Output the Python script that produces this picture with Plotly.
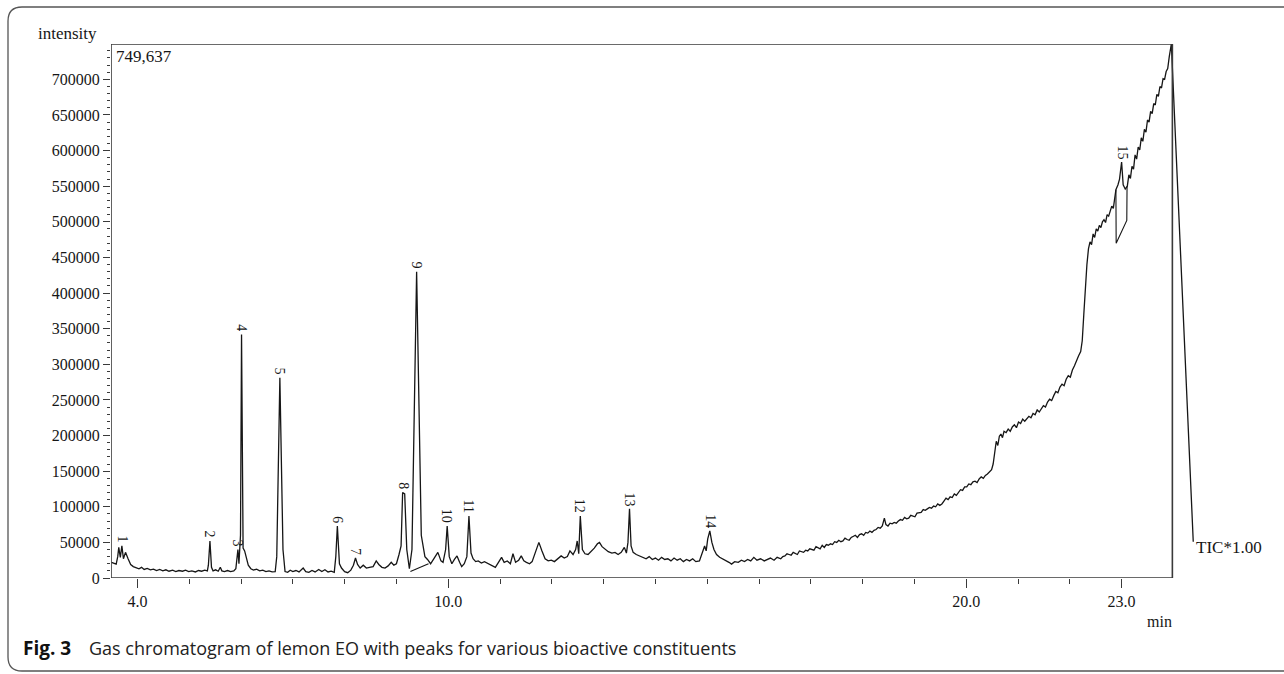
import plotly.graph_objects as go

# ---------------- data ----------------
# early part of the run: 3.5 - 10.4 min
t_early = [
    3.50, 3.55, 3.59, 3.62, 3.64, 3.67, 3.70, 3.73, 3.77, 3.82, 3.87, 3.92, 3.97,
    4.03, 4.08, 4.13, 4.19, 4.25, 4.31, 4.37, 4.43, 4.49, 4.55, 4.61, 4.68, 4.74,
    4.80, 4.87, 4.93, 4.99, 5.05, 5.12, 5.18, 5.24, 5.30, 5.35,
    5.37, 5.40, 5.43, 5.46, 5.51, 5.56, 5.60, 5.63, 5.68, 5.74, 5.80, 5.86, 5.90,
    5.92, 5.94, 5.96, 5.99, 6.01, 6.04, 6.07, 6.10, 6.14, 6.19, 6.24, 6.30, 6.36,
    6.42, 6.48, 6.54, 6.60, 6.66,
    6.69, 6.75, 6.81, 6.85, 6.90, 6.95, 7.00, 7.06, 7.12, 7.20, 7.25, 7.31, 7.37,
    7.43, 7.50, 7.56, 7.62, 7.68, 7.74, 7.80,
    7.83, 7.86, 7.90, 7.94, 8.00, 8.06, 8.12, 8.17, 8.21, 8.25, 8.30, 8.36, 8.42,
    8.48, 8.55, 8.61, 8.66, 8.72, 8.78, 8.84, 8.90, 8.95, 9.00, 9.05, 9.09,
    9.12, 9.16, 9.20, 9.25, 9.30,
    9.39, 9.48, 9.55, 9.60, 9.66, 9.73, 9.80, 9.86, 9.90, 9.95, 9.98, 10.02, 10.07,
    10.12, 10.17, 10.22, 10.26, 10.31, 10.36,
]
i_early = [
    22000, 20000, 19500, 30000, 43000, 29000, 45000, 27000, 36000, 27000, 19000, 16000, 14500,
    13000, 15000, 12000, 13500, 11500, 12500, 10500, 12000, 10000, 11500, 9500, 11000, 9000,
    10500, 9500, 11000, 9000, 10000, 8500, 10500, 9500, 11000, 10000,
    18000, 52000, 15000, 10000, 11500, 9500, 15000, 10000, 9000, 10500, 9000, 10000, 13000,
    25000, 40000, 20000, 60000, 342000, 42000, 38000, 28000, 18000, 13000, 11000, 12500, 10000,
    11000, 9000, 10000, 8500, 9000,
    30000, 281000, 40000, 9000, 8000, 11000, 9000, 10500, 8500, 14000, 9000, 8000, 10500,
    8500, 12000, 9000, 11500, 8500, 9500, 8000,
    30000, 73000, 20000, 14000, 9000, 7500, 11000, 18000, 28000, 19000, 14000, 18000, 14000,
    15000, 16000, 24000, 19000, 15000, 14000, 17000, 22000, 18000, 20000, 33000, 45000,
    120000, 118000, 40000, 13000, 40000,
    430000, 60000, 30000, 26000, 20000, 28000, 36000, 24000, 22000, 40000, 73000, 30000, 20000,
    26000, 31000, 22000, 16000, 20000, 30000,
]

# middle part: 10.4 - 16.5 min
t_mid = [
    10.40, 10.44, 10.48, 10.53, 10.58, 10.64, 10.70, 10.75, 10.80, 10.86, 10.91,
    10.97, 11.03, 11.08, 11.14, 11.20, 11.25, 11.30, 11.36, 11.41, 11.46, 11.51,
    11.57, 11.62, 11.68, 11.75, 11.81, 11.87, 11.93, 11.99, 12.05, 12.12, 12.18,
    12.24, 12.30, 12.35, 12.41, 12.46, 12.49, 12.52, 12.55, 12.59, 12.64, 12.70,
    12.76, 12.82, 12.88, 12.92, 12.97, 13.03, 13.09, 13.16, 13.22, 13.28, 13.34,
    13.40, 13.44, 13.47, 13.50, 13.53, 13.57, 13.63, 13.69, 13.76, 13.82, 13.88,
    13.94, 14.00, 14.06, 14.12, 14.18, 14.24, 14.30, 14.36, 14.42, 14.48, 14.54,
    14.60, 14.66, 14.72, 14.78, 14.85, 14.91, 14.95, 14.98, 15.01, 15.05, 15.09,
    15.13, 15.18, 15.24, 15.30, 15.36, 15.42, 15.47, 15.53, 15.60, 15.66, 15.72,
    15.78, 15.84, 15.90, 15.96, 16.03, 16.10, 16.16, 16.22, 16.29, 16.35, 16.42,
    16.46,
]
i_mid = [
    87000, 35000, 27000, 23000, 24000, 21000, 23000, 21000, 19000, 17000, 15000,
    22000, 29000, 22000, 24000, 20000, 34000, 22000, 25000, 31000, 24000, 22000,
    20000, 23000, 36000, 50000, 38000, 27000, 24000, 25000, 23000, 27000, 31000,
    28000, 30000, 38000, 33000, 40000, 52000, 34000, 87000, 40000, 34000, 33000,
    37000, 42000, 48000, 50000, 44000, 40000, 37000, 35000, 36000, 33000, 36000,
    43000, 35000, 50000, 97000, 45000, 36000, 33000, 31000, 29000, 27000, 30000,
    26000, 28000, 25000, 29000, 26000, 27000, 24000, 28000, 25000, 27000, 23000,
    26000, 24000, 27000, 23000, 24000, 35000, 45000, 38000, 55000, 66000, 50000,
    40000, 33000, 29000, 27000, 24000, 22000, 19500, 23000, 22000, 25000, 23000,
    26000, 24000, 29000, 25000, 27000, 24000, 26000, 28000, 25000, 29000, 27000,
    30000,
]

# late part (rising column bleed): 16.5 - 24.4 min
t_late = [
    16.50, 16.54, 16.58, 16.62, 16.66, 16.70, 16.74, 16.78, 16.82, 16.86, 16.90,
    16.94, 16.98, 17.02, 17.06, 17.10, 17.14, 17.18, 17.22, 17.26, 17.30, 17.34,
    17.38, 17.42, 17.46, 17.50, 17.54, 17.58, 17.62, 17.66, 17.70, 17.74, 17.78,
    17.82, 17.86, 17.90, 17.94, 17.98, 18.02, 18.06, 18.10, 18.14, 18.18, 18.22,
    18.26, 18.30, 18.34, 18.38, 18.42, 18.45, 18.49, 18.53, 18.57, 18.61, 18.65,
    18.69, 18.73, 18.77, 18.81, 18.85, 18.89, 18.93, 18.97, 19.01, 19.05, 19.09,
    19.13, 19.17, 19.21, 19.25, 19.29, 19.33, 19.37, 19.41, 19.45, 19.49, 19.53,
    19.57, 19.61, 19.65, 19.69, 19.73, 19.77, 19.81, 19.85, 19.89, 19.93, 19.97,
    20.01, 20.05, 20.09, 20.13, 20.17, 20.21, 20.25, 20.29, 20.33, 20.37, 20.41,
    20.45, 20.49, 20.52, 20.55, 20.58, 20.61, 20.64, 20.67, 20.70, 20.73, 20.77,
    20.81, 20.85, 20.89, 20.93, 20.97, 21.01, 21.05, 21.09, 21.13, 21.17, 21.21,
    21.25, 21.29, 21.33, 21.37, 21.41, 21.45, 21.49, 21.53, 21.57, 21.61, 21.65,
    21.69, 21.73, 21.77, 21.81, 21.85, 21.89, 21.93, 21.97, 22.01, 22.05, 22.09,
    22.13, 22.17, 22.21, 22.24, 22.27, 22.30, 22.33, 22.36, 22.39, 22.42, 22.45,
    22.48, 22.51, 22.54, 22.57, 22.60, 22.63, 22.66, 22.69, 22.72, 22.75, 22.78,
    22.81, 22.84, 22.87, 22.89, 22.93, 22.96, 23.00, 23.03, 23.07, 23.11, 23.14,
    23.17, 23.20, 23.23, 23.26, 23.29, 23.32, 23.35, 23.38, 23.41, 23.44, 23.47,
    23.50, 23.53, 23.56, 23.59, 23.62, 23.65, 23.68, 23.71, 23.74, 23.77, 23.80,
    23.83, 23.86, 23.89, 23.92, 23.96, 24.383,
]
i_late = [
    31000, 34000, 33000, 32000, 36000, 35000, 33000, 38000, 37000, 36000, 39000,
    38000, 41000, 40000, 39000, 44000, 42000, 41000, 46000, 43000, 47000, 46000,
    48000, 47000, 51000, 50000, 53000, 51000, 52000, 56000, 54000, 53000, 57000,
    58000, 60000, 57000, 61000, 62000, 60000, 64000, 63000, 66000, 64000, 67000,
    68000, 71000, 70000, 73000, 84000, 75000, 73000, 77000, 76000, 78000, 77000,
    80000, 82000, 81000, 85000, 83000, 84000, 88000, 87000, 86000, 91000, 92000,
    92000, 96000, 95000, 97000, 99000, 98000, 101000, 100000, 104000, 102000, 104000,
    108000, 112000, 110000, 114000, 113000, 118000, 116000, 121000, 124000, 123000, 128000,
    128000, 132000, 131000, 135000, 136000, 134000, 139000, 142000, 140000, 144000, 146000,
    149000, 152000, 160000, 178000, 192000, 186000, 199000, 202000, 197000, 206000, 204000,
    209000, 206000, 212000, 215000, 211000, 219000, 217000, 223000, 220000, 224000, 227000,
    225000, 231000, 229000, 236000, 233000, 238000, 242000, 240000, 247000, 251000, 249000,
    256000, 262000, 260000, 268000, 272000, 270000, 279000, 284000, 282000, 292000, 298000,
    306000, 312000, 318000, 333000, 370000, 410000, 440000, 462000, 472000, 468000, 483000,
    478000, 490000, 487000, 495000, 492000, 500000, 503000, 499000, 510000, 508000, 515000,
    522000, 519000, 534000, 545000, 552000, 560000, 584000, 552000, 546000, 550000, 566000,
    561000, 578000, 574000, 594000, 588000, 605000, 601000, 618000, 613000, 630000, 626000,
    643000, 640000, 655000, 652000, 666000, 664000, 679000, 676000, 690000, 688000, 701000,
    700000, 711000, 715000, 732000, 749637, 51000,
]

time_min = t_early + t_mid + t_late
intensity = i_early + i_mid + i_late

# integration baselines drawn by the GC software (segments split by None)
base_time = [9.27, 9.62, None, 22.89, 22.895, 23.10, 23.105]
base_intensity = [9000, 20000, None, 545000, 470000, 502000, 550000]

peak_labels = ["1", "2", "3", "4", "5", "6", "7", "8", "9", "10", "11", "12", "13", "14", "15"]
peak_times = [3.72, 5.40, 5.95, 6.01, 6.75, 7.86, 8.21, 9.14, 9.39, 9.98, 10.40, 12.55, 13.50, 15.05, 23.00]
peak_heights = [45000, 52000, 40000, 342000, 281000, 73000, 28000, 120000, 430000, 73000, 87000, 87000, 97000, 66000, 584000]

x_major_vals = [4, 10, 20, 23]
x_major_text = ["4.0", "10.0", "20.0", "23.0"]
x_minor_vals = list(range(4, 24))
y_max = 749637
y_max_text = "749,637"

# ---------------- layout geometry ----------------
W, H = 1284, 674
ML, MR, MT, MB = 111, 85, 44, 96
PW = W - ML - MR
PH = H - MT - MB
X0, X1 = 3.49, 24.494        # axis range (extends past the frame on the right)
FRAME_RIGHT = 23.98


def px(xpix):
    return (xpix - ML) / PW


def py(ypix):
    return (H - MB - ypix) / PH


serif = "Liberation Serif, Times New Roman, serif"
ink = "#161616"

fig = go.Figure()
fig.add_trace(go.Scatter(
    x=time_min, y=intensity, mode="lines",
    line=dict(color=ink, width=1.3), hoverinfo="skip", showlegend=False,
))
fig.add_trace(go.Scatter(
    x=base_time, y=base_intensity, mode="lines", connectgaps=False,
    line=dict(color=ink, width=1.1), hoverinfo="skip", showlegend=False,
))

annotations = []
for lab, t, h in zip(peak_labels, peak_times, peak_heights):
    annotations.append(dict(
        x=t, y=h, xref="x", yref="y", text=lab, showarrow=False,
        textangle=90, xanchor="center", yanchor="bottom", yshift=1,
        font=dict(family=serif, size=14, color=ink),
    ))

annotations += [
    dict(x=px(36), y=py(33), xref="paper", yref="paper", text="intensity",
         showarrow=False, xanchor="left", yanchor="middle",
         font=dict(family=serif, size=17, color=ink)),
    dict(x=px(114), y=py(57), xref="paper", yref="paper", text=y_max_text,
         showarrow=False, xanchor="left", yanchor="middle",
         font=dict(family=serif, size=17, color=ink)),
    dict(x=px(1194), y=py(547), xref="paper", yref="paper", text="TIC*1.00",
         showarrow=False, xanchor="left", yanchor="middle",
         font=dict(family=serif, size=17, color=ink)),
    dict(x=px(1174), y=py(621), xref="paper", yref="paper", text="min",
         showarrow=False, xanchor="right", yanchor="middle",
         font=dict(family=serif, size=16, color=ink)),
    dict(x=px(21), y=py(648), xref="paper", yref="paper", text="<b>Fig. 3</b>",
         showarrow=False, xanchor="left", yanchor="middle",
         font=dict(family="Open Sans, sans-serif", size=19, color="#111")),
    dict(x=px(87), y=py(648), xref="paper", yref="paper",
         text="Gas chromatogram of lemon EO with peaks for various bioactive constituents",
         showarrow=False, xanchor="left", yanchor="middle",
         font=dict(family="Open Sans, sans-serif", size=18, color="#222")),
]

# outer rounded border (pixel geometry -> paper coords)
bx0, by0, by1, r, bx1 = 8, 7, 671, 14, 1300
border_path = (
    f"M {px(bx1)} {py(by0)} L {px(bx0 + r)} {py(by0)} "
    f"Q {px(bx0)} {py(by0)} {px(bx0)} {py(by0 + r)} "
    f"L {px(bx0)} {py(by1 - r)} "
    f"Q {px(bx0)} {py(by1)} {px(bx0 + r)} {py(by1)} "
    f"L {px(bx1)} {py(by1)}"
)

shapes = [
    dict(type="rect", xref="x", yref="y", x0=X0, x1=FRAME_RIGHT, y0=0, y1=y_max,
         line=dict(color="#3a3a3a", width=1.6), fillcolor="rgba(0,0,0,0)", layer="above"),
    dict(type="path", xref="paper", yref="paper", path=border_path,
         line=dict(color="#555555", width=1.3)),
]

fig.update_layout(
    width=W, height=H,
    margin=dict(l=ML, r=MR, t=MT, b=MB, pad=0),
    paper_bgcolor="white", plot_bgcolor="white",
    showlegend=False,
    annotations=annotations,
    shapes=shapes,
    xaxis=dict(
        range=[X0, X1], showgrid=False, zeroline=False, showline=False,
        tickmode="array", tickvals=x_major_vals, ticktext=x_major_text,
        ticks="outside", ticklen=9, tickwidth=1.4, tickcolor="#3a3a3a",
        tickfont=dict(family=serif, size=16, color=ink),
        minor=dict(tickmode="array", tickvals=x_minor_vals, ticks="outside",
                   ticklen=5, tickwidth=1.2, tickcolor="#3a3a3a"),
        fixedrange=True,
    ),
    yaxis=dict(
        range=[0, y_max], showgrid=False, zeroline=False, showline=False,
        tickmode="linear", tick0=0, dtick=50000, tickformat="d",
        ticks="outside", ticklen=7, tickwidth=1.3, tickcolor="#3a3a3a",
        tickfont=dict(family=serif, size=16, color=ink),
        minor=dict(dtick=10000, ticks="outside", ticklen=3, tickwidth=1,
                   tickcolor="#3a3a3a"),
        fixedrange=True,
    ),
)

fig.write_html("out.html")
